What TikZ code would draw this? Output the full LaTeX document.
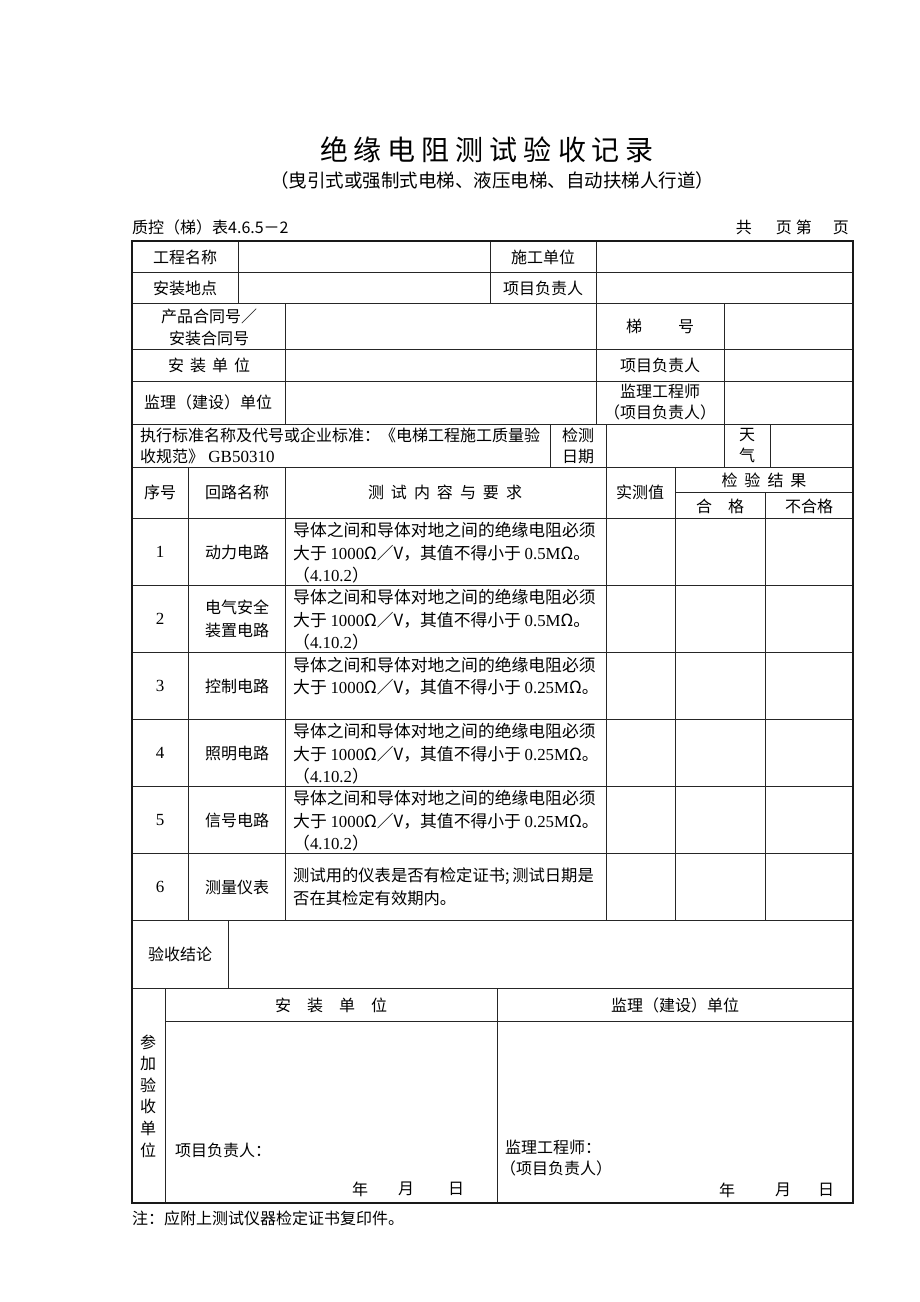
\documentclass[tikz,border=0pt]{standalone}
\usepackage{fontspec}
\setmainfont{Noto Sans CJK SC}
\newfontfamily\tnr{Liberation Serif}
\newcommand\fs[1]{\fontsize{#1}{22}\selectfont}
\begin{document}
\begin{tikzpicture}[x=1pt,y=-1pt,
  every node/.style={inner sep=0pt, font=\fs{16}},
  grid/.style={draw=black!85, line width=0.9pt},
  frame/.style={draw=black!90, line width=1.1pt},
  cell/.style={anchor=west, align=left, font=\fontsize{16.8}{22.5}\selectfont},
  cc/.style={anchor=center, align=center}]
\useasboundingbox (0,0) rectangle (920,1302);
\fill[white] (0,0) rectangle (920,1302);

% ---------- titles ----------
\node (title) at (487,150) {\fontsize{28}{30}\selectfont 绝\hspace{6pt}缘\hspace{6pt}电\hspace{6pt}阻\hspace{6pt}测\hspace{6pt}试\hspace{6pt}验\hspace{6pt}收\hspace{6pt}记\hspace{6pt}录};
\node (subtitle) at (492,180) {\fs{18.5}（曳引式或强制式电梯、液压电梯、自动扶梯人行道）};
\node[anchor=west] (code) at (132,227) {质控（梯）表4.6.5－2};
\node[anchor=east] (page) at (849,227) {共\hspace{24pt}页\hspace{4pt}第\hspace{21pt}页};

% ---------- grid ----------
\foreach \y in {272,303,349,381,424,467,518,585,652,719,786,853,920,988}
  \draw[grid] (132,\y) -- (853,\y);
\draw[grid] (675,492) -- (853,492);
\draw[grid] (165,1021) -- (853,1021);
% verticals
\draw[grid] (238,241) -- (238,303);
\draw[grid] (490,241) -- (490,303);
\draw[grid] (596,241) -- (596,424);
\draw[grid] (285,303) -- (285,424);
\draw[grid] (724,303) -- (724,467);
\draw[grid] (550,424) -- (550,467);
\draw[grid] (606,424) -- (606,920);
\draw[grid] (770,424) -- (770,467);
\draw[grid] (188,467) -- (188,920);
\draw[grid] (285,467) -- (285,920);
\draw[grid] (675,467) -- (675,920);
\draw[grid] (765,492) -- (765,920);
\draw[grid] (228,920) -- (228,988);
\draw[grid] (165,988) -- (165,1203);
\draw[grid] (497,988) -- (497,1203);
\draw[frame] (132,241) rectangle (853,1203);

% ---------- top rows ----------
\node[cc] (a1) at (185,257) {工程名称};
\node[cc] (a2) at (543,257) {施工单位};
\node[cc] (b1) at (185,288) {安装地点};
\node[cc] (b2) at (543,288) {项目负责人};
\node[cc, font=\fontsize{16}{22}\selectfont] (c1) at (209,327) {产品合同号／\\安装合同号};
\node[cc] (c2) at (660,326) {梯\hspace{36pt}号};
\node[cc] (d1) at (209,365) {安\hspace{6pt}装\hspace{6pt}单\hspace{6pt}位};
\node[cc] (d2) at (660,365) {项目负责人};
\node[cc] (e1) at (208,402) {监理（建设）单位};
\node[cc, font=\fontsize{16}{21}\selectfont] (e2) at (660,402) {监理工程师\\（项目负责人）};
\node[anchor=west, align=left, font=\fontsize{16}{21}\selectfont] (f1) at (140,446) {执行标准名称及代号或企业标准：《电梯工程施工质量验\\收规范》{\tnr\fs{17} GB50310}};
\node[cc, font=\fontsize{16}{21}\selectfont] (f2) at (578,446) {检测\\日期};
\node[cc, font=\fontsize{16}{21}\selectfont] (f3) at (747,446) {天\\气};

% ---------- header ----------
\node[cc] (h1) at (160,492) {序号};
\node[cc] (h2) at (237,492) {回路名称};
\node[cc] (h3) at (445,492) {测\hspace{7pt}试\hspace{7pt}内\hspace{7pt}容\hspace{7pt}与\hspace{7pt}要\hspace{7pt}求};
\node[cc] (h4) at (640,492) {实测值};
\node[cc] (h5) at (764,480) {检\hspace{7pt}验\hspace{7pt}结\hspace{7pt}果};
\node[cc] (h6) at (720,506) {合\hspace{16pt}格};
\node[cc] (h7) at (809,506) {不合格};

% ---------- data rows ----------
\node[cc] (n1) at (160,552) {\tnr\fs{17}1};
\node[cc] (r1) at (237,552) {动力电路};
\node[cell] (t1) at (293,553) {导体之间和导体对地之间的绝缘电阻必须\\大于 {\tnr 1000}Ω／V，其值不得小于 {\tnr 0.5M}Ω。\\（{\tnr 4.10.2}）};

\node[cc] (n2) at (160,619) {\tnr\fs{17}2};
\node[cc, font=\fontsize{16}{23}\selectfont] (r2) at (237,619) {电气安全\\装置电路};
\node[cell] (t2) at (293,620) {导体之间和导体对地之间的绝缘电阻必须\\大于 {\tnr 1000}Ω／V，其值不得小于 {\tnr 0.5M}Ω。\\（{\tnr 4.10.2}）};

\node[cc] (n3) at (160,686) {\tnr\fs{17}3};
\node[cc] (r3) at (237,686) {控制电路};
\node[cell] (t3) at (293,676) {导体之间和导体对地之间的绝缘电阻必须\\大于 {\tnr 1000}Ω／V，其值不得小于 {\tnr 0.25M}Ω。};

\node[cc] (n4) at (160,753) {\tnr\fs{17}4};
\node[cc] (r4) at (237,753) {照明电路};
\node[cell] (t4) at (293,754) {导体之间和导体对地之间的绝缘电阻必须\\大于 {\tnr 1000}Ω／V，其值不得小于 {\tnr 0.25M}Ω。\\（{\tnr 4.10.2}）};

\node[cc] (n5) at (160,820) {\tnr\fs{17}5};
\node[cc] (r5) at (237,820) {信号电路};
\node[cell] (t5) at (293,821) {导体之间和导体对地之间的绝缘电阻必须\\大于 {\tnr 1000}Ω／V，其值不得小于 {\tnr 0.25M}Ω。\\（{\tnr 4.10.2}）};

\node[cc] (n6) at (160,887) {\tnr\fs{17}6};
\node[cc] (r6) at (237,887) {测量仪表};
\node[cell, font=\fontsize{16.3}{22.5}\selectfont] (t6) at (293,887) {测试用的仪表是否有检定证书;\,测试日期是\\否在其检定有效期内。};

% ---------- conclusion ----------
\node[cc] (k1) at (180,954) {验收结论};

% ---------- signature section ----------
\node[cc, font=\fontsize{16}{21.6}\selectfont] (v1) at (148,1096) {参\\加\\验\\收\\单\\位};
\node[cc] (s1) at (331,1005) {安\hspace{16pt}装\hspace{16pt}单\hspace{16pt}位};
\node[cc] (s2) at (675,1005) {监理（建设）单位};
\node[anchor=west] (p1) at (175,1150) {项目负责人：};
\node[anchor=west, align=left, font=\fontsize{16}{21}\selectfont] (p2) at (500,1158) {\hspace{5pt}监理工程师：\\（项目负责人）};
\node[cc] (y1) at (360,1189) {年};
\node[cc] (m1) at (406,1189) {月};
\node[cc] (d1b) at (456,1189) {日};
\node[cc] (y2) at (727,1190) {年};
\node[cc] (m2) at (783,1190) {月};
\node[cc] (d2b) at (826,1190) {日};

\node[anchor=west] (note) at (132,1218) {注：应附上测试仪器检定证书复印件。};
\end{tikzpicture}
\end{document}
